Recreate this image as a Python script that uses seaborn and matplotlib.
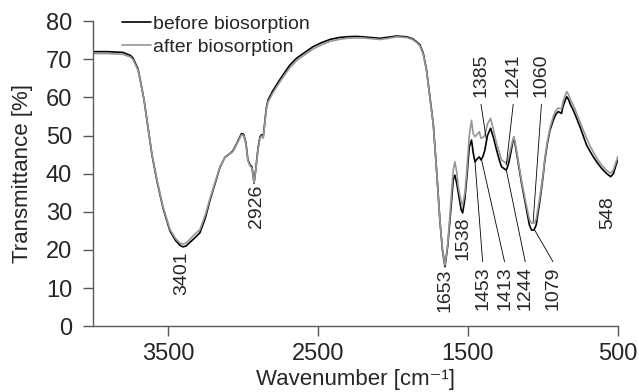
import numpy as np
import pandas as pd
import matplotlib
matplotlib.use('Agg')
import matplotlib.pyplot as plt
from matplotlib.lines import Line2D
import seaborn as sns

# FTIR spectra (wavenumber in cm-1, transmittance in %)
wavenumber = [
    4000, 3900, 3800, 3750, 3733, 3700, 3687, 3660, 3640, 3607,
    3573, 3533, 3487, 3450, 3420, 3401, 3380, 3353, 3320, 3287,
    3250, 3220, 3185, 3153, 3120, 3080, 3067, 3040, 3010, 2995,
    2980, 2967, 2953, 2940, 2926, 2915, 2900, 2887, 2876, 2865,
    2856, 2845, 2833, 2800, 2760, 2733, 2687, 2642, 2580, 2533,
    2480, 2420, 2360, 2309, 2250, 2200, 2140, 2087, 2030, 1975,
    1909, 1870, 1842, 1820, 1798, 1776, 1753, 1731, 1720, 1709,
    1687, 1670, 1653, 1635, 1620, 1598, 1587, 1575, 1564, 1545,
    1535, 1520, 1509, 1491, 1476, 1465, 1453, 1440, 1424, 1413,
    1400, 1387, 1370, 1349, 1330, 1309, 1290, 1276, 1244, 1230,
    1215, 1200, 1193, 1180, 1164, 1142, 1113, 1090, 1076, 1060,
    1045, 1020, 1000, 987, 970, 953, 931, 915, 898, 876,
    865, 842, 830, 815, 798, 775, 753, 730, 709, 685,
    664, 640, 609, 575, 548, 530, 509, 500]

before = [
    72.0, 72.0, 71.8, 71.0, 70.3, 67.5, 65.0, 59.5, 54.0, 45.0,
    38.0, 31.0, 25.0, 22.5, 21.2, 20.8, 21.0, 22.0, 23.2, 24.5,
    28.5, 33.0, 37.5, 41.7, 44.3, 45.5, 46.0, 48.0, 50.5, 50.3,
    48.0, 43.6, 42.3, 41.8, 37.5, 41.0, 46.5, 49.6, 50.2, 49.6,
    53.0, 57.0, 59.3, 61.8, 64.3, 65.9, 68.5, 70.3, 72.0, 73.3,
    74.3, 75.2, 75.7, 75.9, 76.0, 75.9, 75.7, 75.5, 75.8, 76.1,
    75.9, 75.4, 74.6, 73.8, 71.6, 67.2, 60.0, 53.0, 47.0, 40.9,
    27.8, 20.0, 15.6, 21.0, 27.8, 38.3, 39.6, 37.5, 34.9, 30.5,
    29.7, 33.5, 38.3, 47.0, 48.8, 45.5, 43.1, 43.8, 44.4, 43.6,
    44.5, 46.2, 50.0, 51.9, 49.5, 46.2, 43.5, 41.8, 40.9, 42.5,
    45.3, 48.5, 49.3, 46.5, 42.7, 37.4, 31.3, 26.5, 25.2, 25.2,
    26.5, 33.0, 39.0, 43.6, 48.0, 51.4, 54.0, 55.5, 56.3, 55.8,
    57.8, 60.2, 59.5, 58.0, 56.7, 54.5, 52.3, 49.8, 47.5, 45.8,
    44.4, 43.0, 41.4, 40.0, 39.2, 40.0, 42.7, 43.5]

after = [
    71.5, 71.5, 71.3, 70.6, 69.9, 67.2, 64.8, 59.5, 54.0, 45.2,
    38.3, 31.3, 25.4, 23.0, 21.8, 21.5, 21.8, 22.8, 24.2, 25.3,
    29.3, 33.5, 37.8, 41.8, 44.3, 45.4, 45.8, 47.8, 50.2, 50.0,
    47.7, 43.4, 42.0, 41.5, 37.6, 40.8, 46.2, 49.3, 49.9, 49.3,
    52.7, 56.6, 58.8, 61.2, 63.7, 65.3, 67.8, 69.7, 71.4, 72.7,
    73.7, 74.7, 75.2, 75.5, 75.6, 75.6, 75.4, 75.2, 75.5, 75.9,
    75.7, 75.2, 74.4, 73.5, 71.3, 67.0, 59.8, 52.8, 46.8, 40.7,
    27.8, 20.3, 16.0, 21.5, 29.0, 41.0, 43.1, 40.5, 36.5, 32.5,
    31.8, 35.0, 40.0, 50.0, 54.0, 50.5, 49.7, 50.3, 51.0, 49.3,
    49.5, 50.1, 53.0, 54.5, 51.5, 47.9, 45.5, 43.6, 42.7, 44.0,
    46.6, 49.0, 49.7, 47.0, 43.2, 38.0, 32.2, 28.0, 27.0, 27.0,
    28.0, 34.0, 39.5, 44.0, 48.5, 52.0, 55.0, 56.5, 57.2, 57.0,
    59.0, 61.5, 60.8, 59.3, 58.0, 55.8, 53.6, 51.3, 49.3, 47.2,
    45.7, 44.0, 42.3, 40.8, 40.1, 41.0, 43.5, 44.5]

series_names = ['before biosorption', 'after biosorption']
series_colors = ['#000000', '#969696']

# peak labels: text, text position, vertical anchor, leader line target (or None)
peak_labels = [
    ('3401', 3407, 19.5, 'top', None),
    ('2926', 2912, 37.0, 'top', None),
    ('1653', 1653, 15.0, 'top', None),
    ('1538', 1535, 28.8, 'top', None),
    ('1453', 1402, 15.6, 'top', (1453, 43.1)),
    ('1413', 1256, 15.6, 'top', (1409, 43.6)),
    ('1244', 1118, 15.6, 'top', (1244, 40.9)),
    ('1079', 933, 15.6, 'top', (1055, 25.2)),
    ('548', 565, 34.0, 'top', None),
    ('1385', 1413, 60.2, 'bottom', (1375, 48.4)),
    ('1241', 1198, 60.2, 'bottom', (1244, 42.3)),
    ('1060', 1010, 60.2, 'bottom', (1065, 27.4)),
]

df = pd.DataFrame({
    'wavenumber': wavenumber * 2,
    'T': before + after,
    'sample': [series_names[0]] * len(before) + [series_names[1]] * len(after),
})

sns.set_style('ticks')
plt.rcParams['font.family'] = ['Liberation Sans', 'DejaVu Sans']

fig = plt.figure(figsize=(6.39, 3.92), dpi=100)
ax = fig.add_axes([0.1455, 0.168, 0.8215, 0.778])

sns.lineplot(data=df, x='wavenumber', y='T', hue='sample', hue_order=series_names,
             palette=dict(zip(series_names, series_colors)), estimator=None,
             sort=False, linewidth=1.2, legend=False, ax=ax)

ax.set_xlim(4000, 500)
ax.set_ylim(0, 80)
ax.set_xticks([3500, 2500, 1500, 500])
ax.set_yticks(range(0, 81, 10))
ax.tick_params(axis='both', labelsize=17, length=7, width=1, color='#595959',
               direction='out')
ax.tick_params(axis='x', pad=5)
ax.tick_params(axis='y', pad=8)
sns.despine(ax=ax)
for s in ['left', 'bottom']:
    ax.spines[s].set_color('#595959')
    ax.spines[s].set_linewidth(1)

ax.set_xlabel('Wavenumber [cm\u207b\u00b9]', fontsize=16, labelpad=3)
ax.set_ylabel('Transmittance [%]', fontsize=16, labelpad=9)

for txt, tx, ty, va, target in peak_labels:
    ax.text(tx, ty, txt, rotation=90, ha='center', va=va, fontsize=14)
    if target is not None:
        y0 = ty + 1.3 if va == 'top' else ty - 2.0
        ax.plot([tx, target[0]], [y0, target[1]], color='black', lw=0.6)

handles = [Line2D([], [], color=c, lw=1.2) for c in series_colors]
ax.legend(handles, series_names, loc='upper left', bbox_to_anchor=(0.055, 1.02),
          frameon=False, fontsize=14, handlelength=1.5, handletextpad=0.1,
          labelspacing=0.3, borderpad=0, borderaxespad=0)

plt.savefig('out.png', dpi=100)
